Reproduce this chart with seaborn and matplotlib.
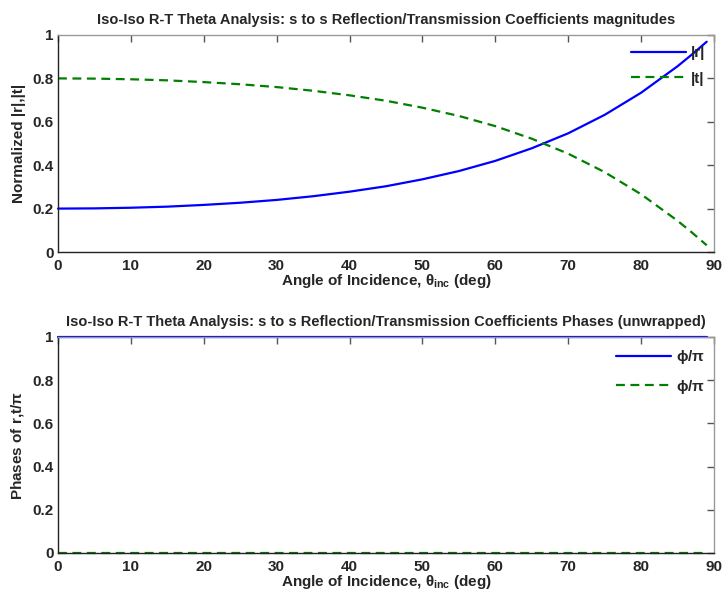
import numpy as np
import pandas as pd
import matplotlib
matplotlib.use("Agg")
import matplotlib.pyplot as plt
import seaborn as sns

# Angle of incidence (deg) and s-polarized coefficient magnitudes
theta_deg = [0, 5, 10, 15, 20, 25, 30, 35, 40, 45, 50, 55, 60, 65, 70, 75, 80, 85, 87, 89]
r_mag = [0.200, 0.201, 0.204, 0.209, 0.217, 0.227, 0.240, 0.257, 0.278, 0.303,
         0.335, 0.373, 0.420, 0.478, 0.547, 0.632, 0.734, 0.856, 0.911, 0.969]
t_mag = [0.800, 0.799, 0.796, 0.791, 0.783, 0.773, 0.760, 0.743, 0.722, 0.697,
         0.665, 0.627, 0.580, 0.522, 0.453, 0.368, 0.266, 0.144, 0.089, 0.031]
# Unwrapped phases divided by pi
r_phase = [1.0] * len(theta_deg)
t_phase = [0.0] * len(theta_deg)

x_ticks = [0, 10, 20, 30, 40, 50, 60, 70, 80, 90]
y_ticks = [0, 0.2, 0.4, 0.6, 0.8, 1]
y_tick_labels = ["0", "0.2", "0.4", "0.6", "0.8", "1"]

sns.set_theme(style="white")
plt.rcParams["font.family"] = ["Liberation Sans", "DejaVu Sans"]
plt.rcParams["font.weight"] = "bold"
plt.rcParams["mathtext.fontset"] = "custom"
plt.rcParams["mathtext.rm"] = "Liberation Sans:bold"
plt.rcParams["mathtext.it"] = "Liberation Sans:bold"
plt.rcParams["mathtext.bf"] = "Liberation Sans:bold"

FS = 11

fig = plt.figure(figsize=(7.25, 6.01), dpi=100)
W, H = 725, 601
ax1 = fig.add_axes([58 / W, 1 - 252 / H, (714 - 58) / W, (252 - 35) / H])
ax2 = fig.add_axes([58 / W, 1 - 553 / H, (714 - 58) / W, (553 - 337) / H])

top = pd.DataFrame({"theta": theta_deg * 2,
                    "value": r_mag + t_mag,
                    "series": ["|r|"] * len(theta_deg) + ["|t|"] * len(theta_deg)})
bot = pd.DataFrame({"theta": theta_deg * 2,
                    "value": r_phase + t_phase,
                    "series": ["r"] * len(theta_deg) + ["t"] * len(theta_deg)})

blue = "#0000ff"
green = "#007f00"

def draw(ax, df, labels, ylabel, title):
    sns.lineplot(data=df, x="theta", y="value", hue="series", style="series",
                 palette=[blue, green], dashes=[(None, None), (4, 2.5)],
                 linewidth=1.6, ax=ax, legend=False, clip_on=False)
    ax.set_xlim(0, 90)
    ax.set_ylim(0, 1)
    ax.set_xticks(x_ticks)
    ax.set_xticklabels([str(v) for v in x_ticks])
    ax.set_yticks(y_ticks)
    ax.set_yticklabels(y_tick_labels)
    ax.tick_params(direction="in", length=5, width=1, color="#555555",
                   top=True, right=True, labelsize=FS)
    ax.tick_params(axis="x", pad=5)
    ax.tick_params(axis="y", pad=3)
    for lab in ax.get_xticklabels() + ax.get_yticklabels():
        lab.set_fontweight("bold")
    for side in ["left", "bottom"]:
        ax.spines[side].set_color("#222222")
        ax.spines[side].set_linewidth(1)
    for side in ["top", "right"]:
        ax.spines[side].set_color("#999999")
        ax.spines[side].set_linewidth(1)
    ax.set_xlabel(r"Angle of Incidence, $\theta_{\mathbf{inc}}$ (deg)",
                  fontsize=FS, fontweight="bold", labelpad=-1)
    ax.set_ylabel(ylabel, fontsize=FS, fontweight="bold", labelpad=5)
    ax.set_title(title, fontsize=10.5, fontweight="bold", pad=8)
    handles = [plt.Line2D([], [], color=blue, lw=1.6),
               plt.Line2D([], [], color=green, lw=1.6, dashes=(4, 2.5))]
    leg = ax.legend(handles, labels, loc="upper right", frameon=False,
                    handlelength=3.6, handletextpad=0.3, labelspacing=0.75,
                    borderaxespad=0.2, fontsize=FS, bbox_to_anchor=(1.0, 0.99))
    for txt in leg.get_texts():
        txt.set_fontweight("bold")

draw(ax1, top, ["|r|", "|t|"], "Normalized |r|,|t|",
     "Iso-Iso R-T Theta Analysis: s to s Reflection/Transmission Coefficients magnitudes")
draw(ax2, bot, [r"$\phi/\pi$", r"$\phi/\pi$"], r"Phases of r,t/$\pi$",
     "Iso-Iso R-T Theta Analysis: s to s Reflection/Transmission Coefficients Phases (unwrapped)")

fig.savefig("out.png", dpi=100, facecolor="white")
